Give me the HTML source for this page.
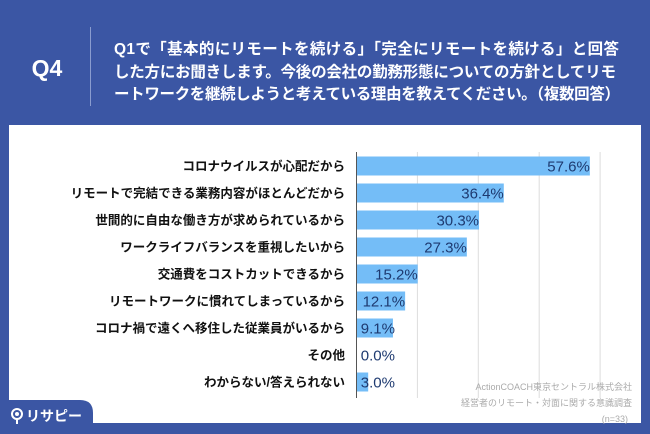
<!DOCTYPE html>
<html><head><meta charset="utf-8"><style>
body{margin:0;width:650px;height:434px;overflow:hidden;background:#3b56a4;font-family:"Liberation Sans","Noto Sans CJK JP",sans-serif;}
svg{display:block}
</style></head><body>
<svg width="650" height="434">
<rect x="0" y="0" width="650" height="434" fill="#3b56a4"/>
<rect x="9" y="125" width="632" height="298" fill="#ffffff"/>
<text x="47" y="76" fill="#fff" font-size="23" font-weight="bold" text-anchor="middle">Q4</text>
<line x1="90.5" y1="27" x2="90.5" y2="106" stroke="#8a9ccf" stroke-width="1"/>
<g fill="#fff" font-size="15.5" font-weight="bold">
<text x="114" y="54" textLength="505" lengthAdjust="spacing">Q1で「基本的にリモートを続ける」「完全にリモートを続ける」と回答</text>
<text x="114" y="77" textLength="502" lengthAdjust="spacing">した方にお聞きします。今後の会社の勤務形態についての方針としてリモ</text>
<text x="114" y="99" textLength="506" lengthAdjust="spacing">ートワークを継続しようと考えている理由を教えてください。（複数回答）</text>
</g>
<g id="grid"></g>
<g id="bars"></g>
<line x1="356.5" y1="152" x2="356.5" y2="398" stroke="#555" stroke-width="1"/>
<g fill="#aaaaaa" font-size="9" text-anchor="end">
<text x="632" y="390">ActionCOACH東京セントラル株式会社</text>
<text x="632" y="406">経営者のリモート・対面に関する意識調査</text>
<text x="628" y="422">(n=33)</text>
</g>
<path d="M0 400 H80 Q93 400 93 413 V434 H0 Z" fill="#3b56a4"/>
<g>
<circle cx="17" cy="414" r="5" fill="none" stroke="#fff" stroke-width="2"/>
<circle cx="17" cy="414" r="2" fill="#fff"/>
<line x1="17" y1="419" x2="17" y2="424" stroke="#fff" stroke-width="2"/>
<text x="26" y="421" fill="#fff" font-size="14" font-weight="bold">リサピー</text>
</g>
</svg>
<script>
const categories=["コロナウイルスが心配だから","リモートで完結できる業務内容がほとんどだから","世間的に自由な働き方が求められているから","ワークライフバランスを重視したいから","交通費をコストカットできるから","リモートワークに慣れてしまっているから","コロナ禍で遠くへ移住した従業員がいるから","その他","わからない/答えられない"];
const values=[57.6,36.4,30.3,27.3,15.2,12.1,9.1,0.0,3.0];
const gridTicks=[15,30,45,60];
const NS="http://www.w3.org/2000/svg";
const x0=356,pxPer=4.06,y0=166,pitch=27,bh=19;
const xs=v=>x0+v*pxPer;
const ys=i=>y0+i*pitch;
const grid=document.getElementById('grid'),bars=document.getElementById('bars');
gridTicks.forEach(t=>{
 const l=document.createElementNS(NS,'line');
 l.setAttribute('x1',xs(t)+0.5);l.setAttribute('x2',xs(t)+0.5);
 l.setAttribute('y1',152);l.setAttribute('y2',398);
 l.setAttribute('stroke','#dddddd');
 
 
 grid.appendChild(l);
});
categories.forEach((c,i)=>{
 const y=ys(i);
 const t=document.createElementNS(NS,'text');
 t.setAttribute('x',345);t.setAttribute('y',y+4.5);
 t.setAttribute('text-anchor','end');t.setAttribute('font-size','12.5');
 t.setAttribute('font-weight','bold');t.setAttribute('fill','#111');
 t.textContent=c;
 
 
 bars.appendChild(t);
 const r=document.createElementNS(NS,'rect');
 r.setAttribute('x',x0);r.setAttribute('y',y-bh/2);
 r.setAttribute('width',Math.max(0,xs(values[i])-x0));r.setAttribute('height',bh);
 r.setAttribute('fill','#74bdf7');
 
 
 bars.appendChild(r);
 const v=document.createElementNS(NS,'text');
 v.setAttribute('x',Math.max(xs(values[i]),x0+39));v.setAttribute('y',y+5.5);
 v.setAttribute('text-anchor','end');v.setAttribute('font-size','15');
 v.setAttribute('fill','#1e3a70');
 v.textContent=values[i].toFixed(1)+'%';
 
 
 bars.appendChild(v);
});
</script>
</body></html>
